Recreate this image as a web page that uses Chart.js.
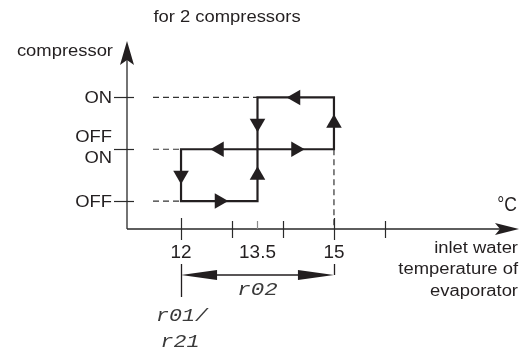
<!DOCTYPE html>
<html>
<head>
<meta charset="utf-8">
<script src="https://cdn.jsdelivr.net/npm/chart.js@4/dist/chart.umd.min.js"></script>
<style>
  html, body { margin: 0; padding: 0; background: #ffffff; }
  #wrap { width: 530px; height: 349px; }
</style>
</head>
<body>
<div id="wrap"><canvas id="c" width="530" height="349"></canvas></div>
<script>
// ---------- data ----------
const titleText = "for 2 compressors";
const yAxisTitle = "compressor";
const xUnit = "°C";
const xAxisTitle = ["inlet water", "temperature of", "evaporator"];

// compressor state levels (0 = 1st OFF, 1 = 1st ON / 2nd OFF, 2 = 2nd ON)
const levelValues = [0, 1, 2];
const levelLabels = [["OFF"], ["OFF", "ON"], ["ON"]];
const dashEndX = [12, 12, 13.5];          // where the dashed guide of each level meets the curve

// hysteresis loop of compressor 1
const loop1X = [12, 12, 13.5, 13.5, 12];
const loop1Y = [1, 0, 0, 1, 1];
// hysteresis loop of compressor 2
const loop2X = [13.5, 15, 15, 13.5, 13.5];
const loop2Y = [1, 1, 2, 2, 1];

// temperature axis
const xTickValues = [12, 13, 14, 15, 16];
const xMajorTicks = [12, 15];
const xMidTick = [13.5];
const xLabelValues = [12, 13.5, 15];
const xLabelTexts = ["12", "13.5", "15"];
const xRange = [10.94, 18.63];
const yRange = [-0.54, 3.09];

// parameters
const bandFrom = 12, bandTo = 15;
const bandLabel = "r02";
const startLabel = ["r01/", "r21"];

// ---------- build datasets ----------
const toPts = (xs, ys) => xs.map((x, i) => ({ x: x, y: ys[i] }));
function arrowPoints(xs, ys) {
  const pts = [], rot = [];
  for (let i = 0; i < xs.length - 1; i++) {
    const dx = xs[i + 1] - xs[i], dy = ys[i + 1] - ys[i];
    pts.push({ x: (xs[i] + xs[i + 1]) / 2, y: (ys[i] + ys[i + 1]) / 2 });
    rot.push(dx > 0 ? 90 : dx < 0 ? 270 : dy > 0 ? 0 : 180);
  }
  return { pts, rot };
}
const a1 = arrowPoints(loop1X, loop1Y);
const a2 = arrowPoints(loop2X, loop2Y);

const INK = "#231f20";

function txt(ctx, s, x, y, o) {
  o = o || {};
  ctx.save();
  ctx.font = (o.style || "") + " " + (o.size || 16) + "px " + (o.font || '"Liberation Sans"');
  ctx.fillStyle = o.color || INK;
  ctx.textBaseline = "alphabetic";
  ctx.textAlign = o.align || "left";
  ctx.translate(x, y);
  ctx.scale(o.sx || 1.15, 1);
  ctx.fillText(s, 0, 0);
  ctx.restore();
}
function head(ctx, tx, ty, dir, len, hw, notch) {
  const [ux, uy] = dir;
  const px = -uy, py = ux;
  const bx = tx - ux * len, by = ty - uy * len;
  ctx.beginPath();
  ctx.moveTo(tx, ty);
  ctx.lineTo(bx + px * hw, by + py * hw);
  ctx.lineTo(bx + ux * notch, by + uy * notch);
  ctx.lineTo(bx - px * hw, by - py * hw);
  ctx.closePath();
  ctx.fill();
}

const decor = {
  id: "decor",
  beforeDatasetsDraw(chart) {
    const ctx = chart.ctx, xs = chart.scales.x, ys = chart.scales.y;
    const ca = chart.chartArea;
    const ax = ca.left, ay = ca.bottom;
    ctx.save();
    ctx.fillStyle = "#fff";
    ctx.fillRect(0, 0, chart.width, chart.height);

    // dashed guides
    ctx.strokeStyle = "#333";
    ctx.lineWidth = 1.2;
    ctx.setLineDash([6, 4]);
    levelValues.forEach((v, i) => {
      const py = ys.getPixelForValue(v);
      ctx.beginPath();
      ctx.moveTo(ax + 26, py);
      ctx.lineTo(xs.getPixelForValue(dashEndX[i]), py);
      ctx.stroke();
    });
    ctx.beginPath();
    ctx.moveTo(xs.getPixelForValue(bandTo), ys.getPixelForValue(1));
    ctx.lineTo(xs.getPixelForValue(bandTo), ay);
    ctx.stroke();
    ctx.setLineDash([]);

    // axes
    ctx.strokeStyle = "#2a2a2a";
    ctx.fillStyle = INK;
    ctx.lineWidth = 1.3;
    ctx.beginPath();
    ctx.moveTo(ax, ay); ctx.lineTo(ax, ca.top + 18);
    ctx.moveTo(ax, ay); ctx.lineTo(ca.right - 18, ay);
    ctx.stroke();
    head(ctx, ax, ca.top, [0, -1], 24, 7, 5);
    head(ctx, ca.right, ay, [1, 0], 24, 6, 5);

    // y ticks and labels
    ctx.lineWidth = 1.2;
    levelValues.forEach((v, i) => {
      const py = Math.round(ys.getPixelForValue(v)) + 0.5;
      ctx.beginPath();
      ctx.moveTo(ax - 13, py); ctx.lineTo(ax + 7, py);
      ctx.stroke();
      const lines = levelLabels[i];
      if (lines.length === 1) {
        txt(ctx, lines[0], ax - 15, py + 5.5, { align: "right" });
      } else {
        txt(ctx, lines[0], ax - 15, py - 8, { align: "right" });
        txt(ctx, lines[1], ax - 15, py + 13.5, { align: "right" });
      }
    });

    // x ticks
    xTickValues.forEach(v => {
      const px = Math.round(xs.getPixelForValue(v)) + 0.5;
      const major = xMajorTicks.includes(v);
      ctx.strokeStyle = "#2a2a2a";
      ctx.beginPath();
      ctx.moveTo(px, ay - (major ? 11 : 8));
      ctx.lineTo(px, ay + (major ? 11 : 9));
      ctx.stroke();
    });
    xMidTick.forEach(v => {
      const px = Math.round(xs.getPixelForValue(v)) + 0.5;
      ctx.strokeStyle = "#8a8a8a";
      ctx.beginPath();
      ctx.moveTo(px, ay - 8); ctx.lineTo(px, ay);
      ctx.stroke();
    });
    xLabelValues.forEach((v, i) => {
      txt(ctx, xLabelTexts[i], xs.getPixelForValue(v), ay + 29, { align: "center", size: 17.5, sx: 1.08 });
    });

    // titles
    txt(ctx, titleText, 227, 22, { align: "center" });
    txt(ctx, yAxisTitle, ax - 14, 56, { align: "right" });
    txt(ctx, xUnit, 517, 211, { align: "right", size: 19.5, sx: 0.9 });
    xAxisTitle.forEach((s, i) => txt(ctx, s, 518, 253 + i * 21.3, { align: "right" }));

    // band r02
    const b0 = xs.getPixelForValue(bandFrom), b1 = xs.getPixelForValue(bandTo);
    const by = ay + 46;
    ctx.strokeStyle = INK;
    ctx.lineWidth = 1.3;
    ctx.beginPath();
    ctx.moveTo(Math.round(b0) + 0.5, ay + 35); ctx.lineTo(Math.round(b0) + 0.5, ay + 68);
    ctx.moveTo(Math.round(b1) + 0.5, ay + 35); ctx.lineTo(Math.round(b1) + 0.5, by);
    ctx.moveTo(b0 + 20, by); ctx.lineTo(b1 - 20, by);
    ctx.stroke();
    head(ctx, b0, by, [-1, 0], 36, 5, 0);
    head(ctx, b1, by, [1, 0], 36, 5, 0);

    const segFont = '"Liberation Mono"';
    const segOpt = { size: 18, font: segFont, style: "italic", color: "#3a3a3a" };
    txt(ctx, bandLabel, (b0 + b1) / 2, ay + 66, Object.assign({ align: "center", sx: 1.25 }, segOpt));
    txt(ctx, startLabel[0], b0 + 1, ay + 92, Object.assign({ align: "center", sx: 1.2 }, segOpt));
    txt(ctx, startLabel[1], b0 - 1, ay + 118, Object.assign({ align: "center", sx: 1.2 }, segOpt));
    ctx.restore();
  }
};

const lineDs = (pts) => ({
  type: "line",
  data: pts,
  borderColor: INK,
  borderWidth: 2.2,
  pointRadius: 0,
  fill: false,
  tension: 0,
  clip: false,
  borderJoinStyle: "miter",
  borderCapStyle: "square"
});
const arrowDs = (a) => ({
  type: "scatter",
  data: a.pts,
  pointStyle: "triangle",
  pointRadius: 9,
  pointRotation: a.rot,
  backgroundColor: INK,
  borderColor: INK,
  borderWidth: 0,
  clip: false
});

new Chart(document.getElementById("c"), {
  type: "line",
  data: {
    datasets: [
      lineDs(toPts(loop1X, loop1Y)),
      lineDs(toPts(loop2X, loop2Y)),
      arrowDs(a1),
      arrowDs(a2)
    ]
  },
  options: {
    responsive: false,
    animation: false,
    devicePixelRatio: 1,
    layout: { padding: { left: 127, right: 11, top: 41, bottom: 120 } },
    plugins: { legend: { display: false }, tooltip: { enabled: false }, title: { display: false } },
    events: [],
    scales: {
      x: { type: "linear", min: xRange[0], max: xRange[1], display: false },
      y: { type: "linear", min: yRange[0], max: yRange[1], display: false }
    }
  },
  plugins: [decor]
});
</script>
</body>
</html>
